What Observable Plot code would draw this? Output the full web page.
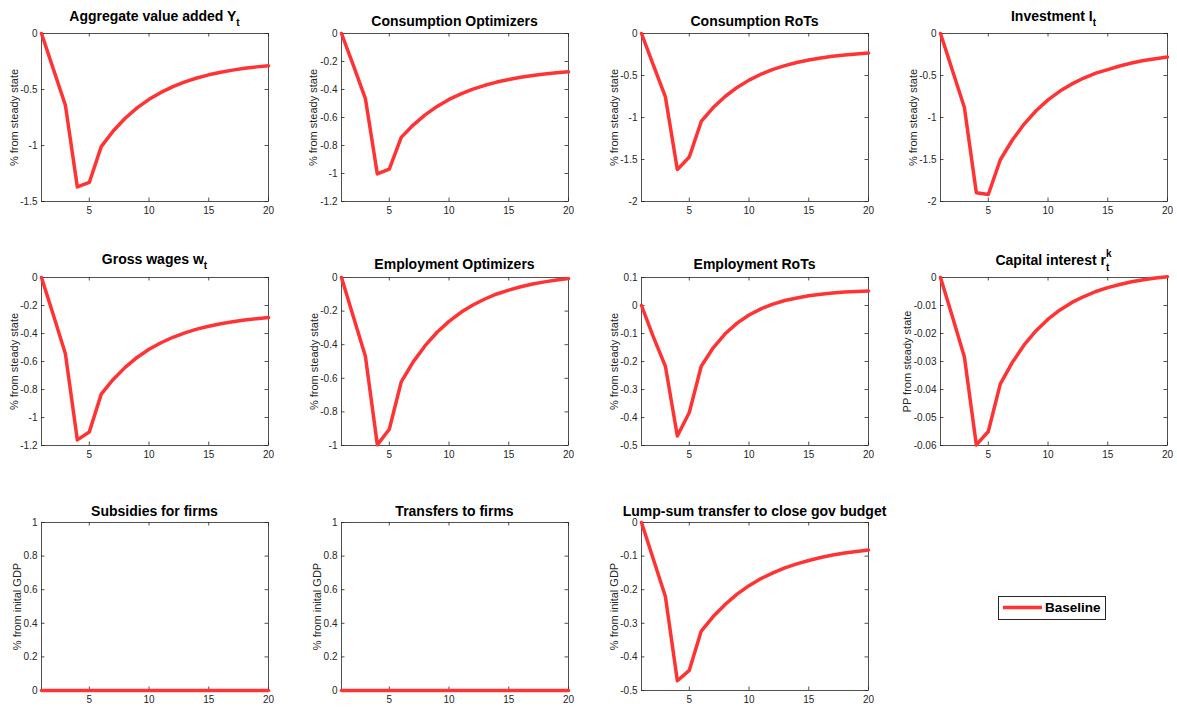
<!DOCTYPE html>
<html><head><meta charset="utf-8">
<script src="https://cdn.jsdelivr.net/npm/d3@7"></script>
<script src="https://cdn.jsdelivr.net/npm/@observablehq/plot@0.6"></script>
<style>
body{margin:0;background:#fff;}
#fig{position:relative;width:1177px;height:709px;background:#fff;font-family:"Liberation Sans",Arial,sans-serif;overflow:hidden}
.panel{position:absolute}
#titles{position:absolute;left:0;top:0;pointer-events:none}
</style></head><body><div id="fig"></div>
<script>
// ---- data ----
const periods = [1,2,3,4,5,6,7,8,9,10,11,12,13,14,15,16,17,18,19,20];
const xTicks = [5,10,15,20];

const aggY      = [0,-0.32,-0.64,-1.37,-1.33,-1.01,-0.871,-0.757,-0.664,-0.588,-0.526,-0.474,-0.432,-0.397,-0.369,-0.346,-0.327,-0.311,-0.298,-0.288];
const consOpt   = [0,-0.23,-0.465,-1.003,-0.968,-0.742,-0.654,-0.581,-0.521,-0.471,-0.431,-0.397,-0.370,-0.347,-0.328,-0.312,-0.300,-0.289,-0.281,-0.273];
const consRoT   = [0,-0.38,-0.755,-1.62,-1.47,-1.047,-0.882,-0.750,-0.642,-0.555,-0.485,-0.428,-0.383,-0.345,-0.316,-0.292,-0.272,-0.256,-0.243,-0.233];
const invest    = [0,-0.44,-0.88,-1.897,-1.917,-1.506,-1.271,-1.078,-0.920,-0.790,-0.685,-0.600,-0.530,-0.472,-0.430,-0.387,-0.352,-0.322,-0.300,-0.281];
const wages     = [0,-0.27,-0.544,-1.160,-1.104,-0.833,-0.728,-0.642,-0.571,-0.513,-0.466,-0.427,-0.395,-0.369,-0.348,-0.330,-0.316,-0.304,-0.294,-0.286];
const empOpt    = [0,-0.235,-0.469,-0.996,-0.903,-0.621,-0.502,-0.406,-0.326,-0.261,-0.207,-0.164,-0.128,-0.098,-0.075,-0.055,-0.039,-0.026,-0.015,-0.006];
const empRoT    = [0,-0.113,-0.217,-0.466,-0.382,-0.217,-0.151,-0.101,-0.063,-0.034,-0.012,0.005,0.018,0.027,0.035,0.040,0.0445,0.048,0.050,0.052];
const capInt    = [0,-0.014,-0.0284,-0.0598,-0.0550,-0.0381,-0.0304,-0.0241,-0.0190,-0.0149,-0.0116,-0.0089,-0.0068,-0.0050,-0.0036,-0.0025,-0.0015,-0.0008,-0.0002,0.0003];
const subsidies = [0,0,0,0,0,0,0,0,0,0,0,0,0,0,0,0,0,0,0,0];
const transfers = [0,0,0,0,0,0,0,0,0,0,0,0,0,0,0,0,0,0,0,0];
const lumpSum   = [0,-0.11,-0.220,-0.471,-0.440,-0.323,-0.280,-0.244,-0.213,-0.188,-0.167,-0.150,-0.135,-0.123,-0.113,-0.104,-0.097,-0.091,-0.086,-0.082];

const ticks15 = [-1.5,-1,-0.5,0];
const ticks12 = [-1.2,-1,-0.8,-0.6,-0.4,-0.2,0];
const ticks20 = [-2,-1.5,-1,-0.5,0];
const ticks10 = [-1,-0.8,-0.6,-0.4,-0.2,0];
const ticksEmpRoT = [-0.5,-0.4,-0.3,-0.2,-0.1,0,0.1];
const ticksCap = [-0.06,-0.05,-0.04,-0.03,-0.02,-0.01,0];
const ticksUnit = [0,0.2,0.4,0.6,0.8,1];
const ticksLump = [-0.5,-0.4,-0.3,-0.2,-0.1,0];

const labelSS = "% from steady state";
const labelPP = "PP from steady state";
const labelGDP = "% from inital GDP";

const panels = [
  {values: aggY,      domain: [-1.5,0],   ticks: ticks15,     label: labelSS,  off: 27, col:0, row:0},
  {values: consOpt,   domain: [-1.2,0],   ticks: ticks12,     label: labelSS,  off: 28, col:1, row:0},
  {values: consRoT,   domain: [-2,0],     ticks: ticks20,     label: labelSS,  off: 27, col:2, row:0},
  {values: invest,    domain: [-2,0],     ticks: ticks20,     label: labelSS,  off: 27, col:3, row:0},
  {values: wages,     domain: [-1.2,0],   ticks: ticks12,     label: labelSS,  off: 27, col:0, row:1},
  {values: empOpt,    domain: [-1,0],     ticks: ticks10,     label: labelSS,  off: 27, col:1, row:1},
  {values: empRoT,    domain: [-0.5,0.1], ticks: ticksEmpRoT, label: labelSS,  off: 27, col:2, row:1},
  {values: capInt,    domain: [-0.06,0],  ticks: ticksCap,    label: labelPP,  off: 33, col:3, row:1},
  {values: subsidies, domain: [0,1],      ticks: ticksUnit,   label: labelGDP, off: 24, col:0, row:2},
  {values: transfers, domain: [0,1],      ticks: ticksUnit,   label: labelGDP, off: 24, col:1, row:2},
  {values: lumpSum,   domain: [-0.5,0],   ticks: ticksLump,   label: labelGDP, off: 27, col:2, row:2}
];

// ---- layout ----
const colLeft = [41, 341, 641, 940];
const rowTop = [33, 277, 522];
const PW = 227, PH = 168;
const ML = 41, MR = 12, MT = 8, MB = 22;
const AX = "#262626";
const RED = "#ff3333";
const fig = document.getElementById("fig");

for (const p of panels) {
  const data = periods.map((t, i) => ({t, v: p.values[i]}));
  const chart = Plot.plot({
    width: ML + PW + MR, height: MT + PH + MB,
    marginLeft: ML, marginRight: MR, marginTop: MT, marginBottom: MB,
    style: {fontFamily: '"Liberation Sans", Arial, sans-serif', fontSize: "10px", color: AX, background: "transparent", overflow: "visible"},
    x: {domain: [1, 20]},
    y: {domain: p.domain},
    marks: [
      Plot.frame({stroke: AX, strokeWidth: 0.8}),
      Plot.tickX(xTicks, {x: d => d, insetTop: PH - 3.5, stroke: AX, strokeWidth: 0.8}),
      Plot.tickX(xTicks, {x: d => d, insetBottom: PH - 3.5, stroke: AX, strokeWidth: 0.8}),
      Plot.tickY(p.ticks, {y: d => d, insetRight: PW - 3.5, stroke: AX, strokeWidth: 0.8}),
      Plot.tickY(p.ticks, {y: d => d, insetLeft: PW - 3.5, stroke: AX, strokeWidth: 0.8}),
      Plot.axisX(xTicks, {tickSize: 0, tickPadding: 5, label: null, tickFormat: d => String(d), fontSize: 10, fill: AX}),
      Plot.axisY(p.ticks, {tickSize: 0, tickPadding: 4, label: null, tickFormat: d => String(d), fontSize: 10, fill: AX}),
      Plot.text([p.label], {text: d => d, frameAnchor: "left", textAnchor: "middle", lineAnchor: "middle", dx: -p.off, rotate: -90, fontSize: 11, fill: AX}),
      Plot.line(data, {x: "t", y: "v", stroke: RED, strokeWidth: 3.5})
    ]
  });
  const div = document.createElement("div");
  div.className = "panel";
  div.style.left = (colLeft[p.col] - ML) + "px";
  div.style.top = (rowTop[p.row] - MT) + "px";
  div.style.width = (ML + PW + MR) + "px";
  div.appendChild(chart);
  fig.appendChild(div);
}

// ---- titles (with TeX-like sub/superscripts) ----
const cx = c => colLeft[c] + PW / 2;
const titlesSvg = `
<svg id="titles" width="1177" height="709" xmlns="http://www.w3.org/2000/svg" font-family="Liberation Sans, Arial, sans-serif" font-weight="bold" fill="#000" text-anchor="middle">
  <text x="${cx(0)}" y="20.7" font-size="14">Aggregate value added Y<tspan dy="5" font-size="10">t</tspan></text>
  <text x="${cx(1)}" y="26.3" font-size="14">Consumption Optimizers</text>
  <text x="${cx(2)}" y="26.3" font-size="14">Consumption RoTs</text>
  <text x="${cx(3)}" y="20.7" font-size="14">Investment I<tspan dy="5" font-size="10">t</tspan></text>
  <text x="${cx(0)}" y="264.3" font-size="14">Gross wages w<tspan dy="5" font-size="10">t</tspan></text>
  <text x="${cx(1)}" y="269.3" font-size="14">Employment Optimizers</text>
  <text x="${cx(2)}" y="269.3" font-size="14">Employment RoTs</text>
  <text x="${cx(3)}" y="265" font-size="14">Capital interest r<tspan dy="-8" font-size="10">k</tspan><tspan dx="-5.6" dy="13.5" font-size="10">t</tspan></text>
  <text x="${cx(0)}" y="515.5" font-size="14">Subsidies for firms</text>
  <text x="${cx(1)}" y="515.5" font-size="14">Transfers to firms</text>
  <text x="${cx(2)}" y="515.5" font-size="14">Lump-sum transfer to close gov budget</text>
</svg>`;
fig.insertAdjacentHTML("beforeend", titlesSvg);

// ---- legend ----
fig.insertAdjacentHTML("beforeend", `
<div style="position:absolute;left:998px;top:596px;width:106px;height:22px;border:1px solid ${AX};background:#fff;">
  <svg width="44" height="22" style="position:absolute;left:0;top:0"><line x1="4" x2="43" y1="10.5" y2="10.5" stroke="${RED}" stroke-width="3.5"/></svg>
  <span style="position:absolute;left:46px;top:0;line-height:22px;font-weight:bold;font-size:13.5px;color:#000;">Baseline</span>
</div>`);
</script>
</body></html>
